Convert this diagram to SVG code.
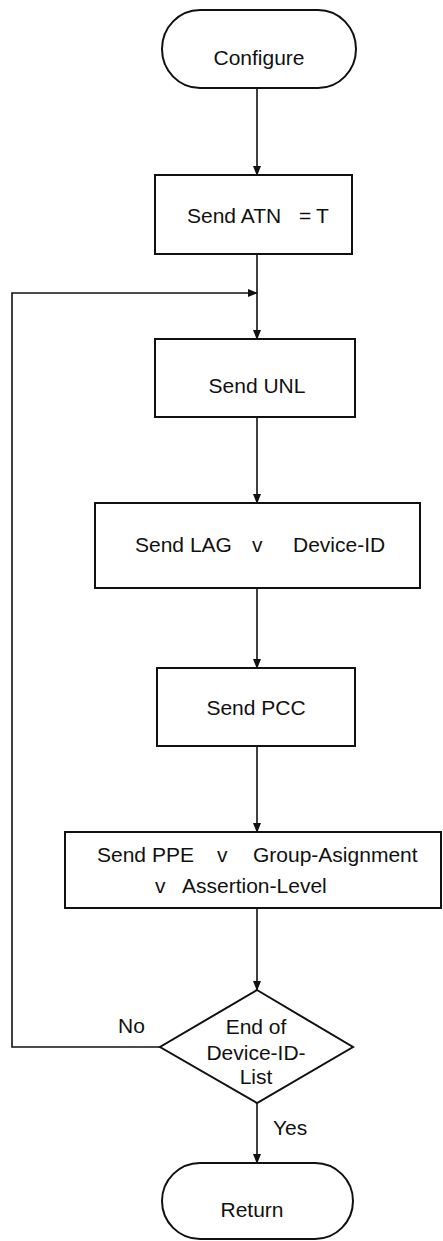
<svg xmlns="http://www.w3.org/2000/svg" width="443" height="1241" viewBox="0 0 443 1241">
<style>
.shape{fill:#fff;stroke:#111;stroke-width:2}
.conn{fill:none;stroke:#111;stroke-width:1.6}
text{font-family:"Liberation Sans",Arial,sans-serif;font-size:21px;fill:#111}
.c{text-anchor:middle}
</style>
<defs>
<marker id="ah" markerWidth="10" markerHeight="10" refX="9" refY="5" orient="auto" markerUnits="userSpaceOnUse">
<path d="M0,1 L10,5 L0,9 Z" fill="#111"/>
</marker>
</defs>
<rect width="443" height="1241" fill="#fff"/>
<g id="connectors">
<line class="conn" x1="257" y1="88" x2="257" y2="175" marker-end="url(#ah)"/>
<line class="conn" x1="257" y1="254" x2="257" y2="339" marker-end="url(#ah)"/>
<line class="conn" x1="257" y1="417" x2="257" y2="503" marker-end="url(#ah)"/>
<line class="conn" x1="257" y1="588" x2="257" y2="668" marker-end="url(#ah)"/>
<line class="conn" x1="257" y1="746" x2="257" y2="832" marker-end="url(#ah)"/>
<line class="conn" x1="257" y1="908" x2="257" y2="990" marker-end="url(#ah)"/>
<line class="conn" x1="257" y1="1103" x2="257" y2="1163" marker-end="url(#ah)"/>
<polyline class="conn" points="160,1047 12,1047 12,293 257,293" marker-end="url(#ah)"/>
<text x="118" y="1033">No</text>
<text x="273" y="1135">Yes</text>
</g>
<g id="configure">
<rect class="shape" x="162" y="10" width="194" height="78" rx="38" ry="39"/>
<text class="c" x="259" y="65">Configure</text>
</g>
<g id="send-atn">
<rect class="shape" x="155" y="175" width="197" height="79"/>
<text x="187" y="223">Send ATN<tspan x="299">=</tspan><tspan x="316">T</tspan></text>
</g>
<g id="send-unl">
<rect class="shape" x="155" y="339" width="200" height="78"/>
<text class="c" x="257" y="393">Send UNL</text>
</g>
<g id="send-lag">
<rect class="shape" x="95" y="503" width="325" height="85"/>
<text x="135" y="552">Send LAG<tspan x="252">v</tspan><tspan x="293">Device-ID</tspan></text>
</g>
<g id="send-pcc">
<rect class="shape" x="157" y="668" width="198" height="78"/>
<text class="c" x="256" y="715">Send PCC</text>
</g>
<g id="send-ppe">
<rect class="shape" x="65" y="832" width="376" height="76"/>
<text x="97" y="862">Send PPE<tspan x="217">v</tspan><tspan x="253">Group-Asignment</tspan></text>
<text x="155" y="893">v<tspan x="182">Assertion-Level</tspan></text>
</g>
<g id="end-of-list">
<polygon class="shape" points="257,990 353,1047 257,1103 160,1047"/>
<text class="c" x="256" y="1034">End of</text>
<text class="c" x="256" y="1060">Device-ID-</text>
<text class="c" x="256" y="1084">List</text>
</g>
<g id="return">
<rect class="shape" x="162" y="1163" width="191" height="76" rx="38" ry="38"/>
<text class="c" x="252" y="1217">Return</text>
</g>
</svg>
